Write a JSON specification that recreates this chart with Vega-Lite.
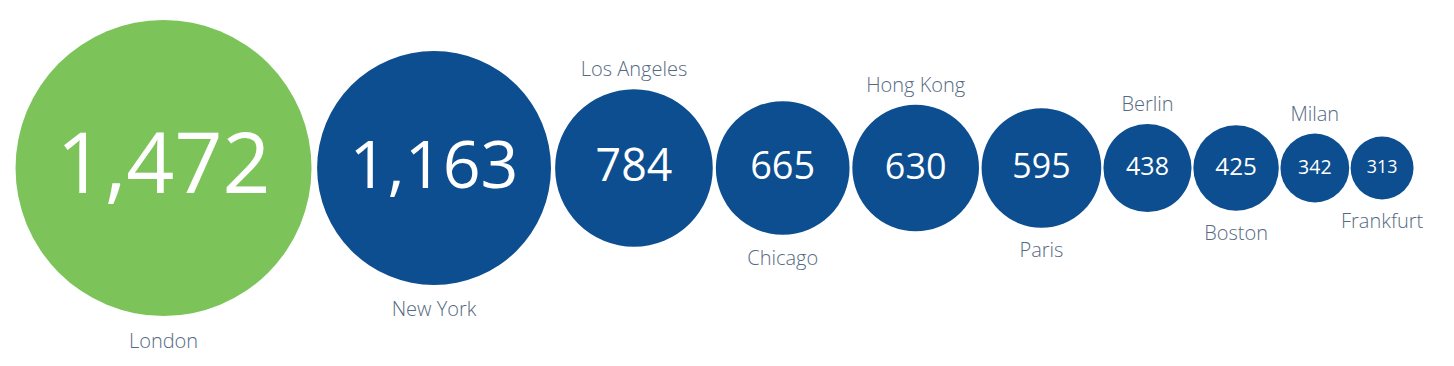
{
  "$schema": "https://vega.github.io/schema/vega-lite/v6.json",
  "width": 1454,
  "height": 366,
  "autosize": {"type": "none"},
  "padding": 0,
  "background": "white",
  "config": {"view": {"stroke": null}},
  "data": {
    "values": [
      {"city": "London", "value": 1472},
      {"city": "New York", "value": 1163},
      {"city": "Los Angeles", "value": 784},
      {"city": "Chicago", "value": 665},
      {"city": "Hong Kong", "value": 630},
      {"city": "Paris", "value": 595},
      {"city": "Berlin", "value": 438},
      {"city": "Boston", "value": 425},
      {"city": "Milan", "value": 342},
      {"city": "Frankfurt", "value": 313}
    ]
  },
  "encoding": {
    "x": {
      "field": "value",
      "type": "quantitative",
      "stack": "zero",
      "bandPosition": 0.5,
      "scale": {"domain": [-60.4, 7020.8], "nice": false, "zero": false},
      "axis": null
    },
    "order": {"field": "value", "type": "quantitative", "sort": "descending"},
    "detail": {"field": "city", "type": "nominal"},
    "y": {
      "datum": 0,
      "type": "quantitative",
      "scale": {"domain": [-198, 168], "nice": false, "zero": false},
      "axis": null
    }
  },
  "layer": [
    {
      "mark": {"type": "circle", "opacity": 1},
      "encoding": {
        "size": {
          "field": "value",
          "type": "quantitative",
          "scale": {"type": "pow", "exponent": 2, "domain": [0, 1472], "range": [0, 87616]},
          "legend": null
        },
        "color": {
          "condition": {"test": "datum.city == 'London'", "value": "#7cc35a"},
          "value": "#0c4e8f"
        }
      }
    },
    {
      "mark": {"type": "text", "color": "white", "font": "Open Sans", "baseline": "middle", "align": "center"},
      "encoding": {
        "text": {"field": "value", "type": "quantitative", "format": ","},
        "size": {
          "field": "value",
          "type": "quantitative",
          "scale": {"domain": [0, 1472], "range": [0, 84], "nice": false},
          "legend": null
        }
      }
    },
    {
      "mark": {"type": "text", "font": "Open Sans", "fontSize": 20, "fontWeight": 300, "color": "#556a82", "baseline": "middle", "align": "center"},
      "encoding": {
        "text": {
          "condition": {"test": "indexof(['Los Angeles','Hong Kong','Berlin','Milan'], datum.city) >= 0", "field": "city", "type": "nominal"},
          "value": ""
        },
        "yOffset": {
          "field": "value",
          "type": "quantitative",
          "scale": {"domain": [0, 1472], "range": [-18, -168], "nice": false, "zero": false}
        }
      }
    },
    {
      "mark": {"type": "text", "font": "Open Sans", "fontSize": 20, "fontWeight": 300, "color": "#556a82", "baseline": "middle", "align": "center"},
      "encoding": {
        "text": {
          "condition": {"test": "indexof(['Los Angeles','Hong Kong','Berlin','Milan'], datum.city) < 0", "field": "city", "type": "nominal"},
          "value": ""
        },
        "yOffset": {
          "field": "value",
          "type": "quantitative",
          "scale": {"domain": [0, 1472], "range": [22, 174], "nice": false, "zero": false}
        }
      }
    }
  ],
  "resolve": {"scale": {"size": "independent", "yOffset": "independent"}}
}
